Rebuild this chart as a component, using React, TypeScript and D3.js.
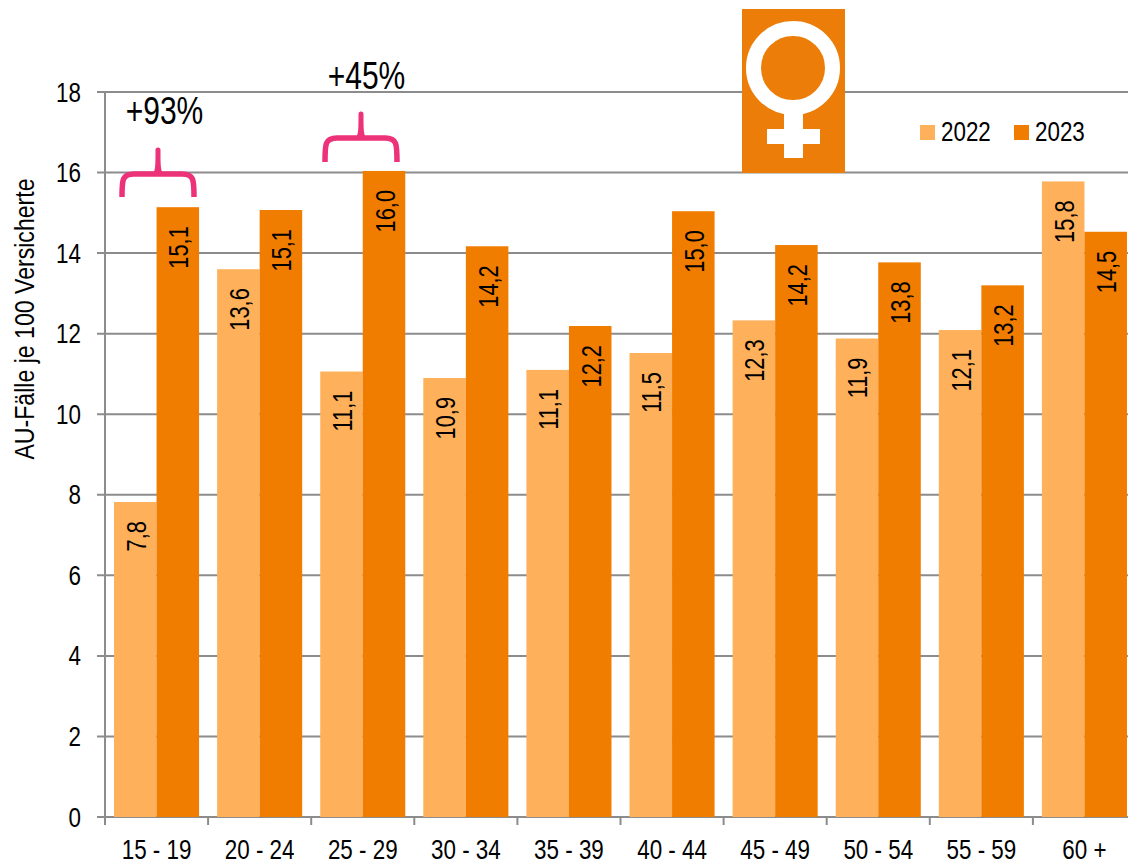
import React, { useEffect, useRef } from 'react';
import * as d3 from 'd3';

const ageGroups = ['15 - 19', '20 - 24', '25 - 29', '30 - 34', '35 - 39', '40 - 44', '45 - 49', '50 - 54', '55 - 59', '60 +'];
const years = ['2022', '2023'];
const values2022 = [7.82, 13.6, 11.06, 10.9, 11.1, 11.52, 12.33, 11.88, 12.09, 15.78];
const values2023 = [15.14, 15.07, 16.04, 14.17, 12.19, 15.04, 14.2, 13.77, 13.2, 14.53];
const yTicks = d3.range(0, 19, 2);
const colors = ['#ffb05a', '#f07d00'];
const gridColor = '#8c8c8c';
const pink = '#ec3278';
const font = '"Liberation Sans", Arial, sans-serif';

const App = () => {
  const ref = useRef<SVGSVGElement>(null);

  useEffect(() => {
    const svg = d3.select(ref.current);
    svg.selectAll('*').remove();

    const y = d3.scaleLinear().domain([0, 18]).range([817, 92]);
    const x = d3.scaleBand().domain(ageGroups).range([105, 1136]).paddingInner(0.175).paddingOuter(0.0875);
    const xSub = d3.scaleBand().domain(years).range([0, x.bandwidth()]);
    const tickX = (i: number) => 105 + i * x.step();

    // horizontally squeezed text, the source picture was resized
    const label = (px: number, py: number, text: string, size = 27, anchor = 'middle', sx = 0.83) =>
      svg.append('text')
        .attr('transform', `translate(${px},${py}) scale(${sx},1)`)
        .attr('text-anchor', anchor)
        .attr('font-family', font)
        .attr('font-size', size)
        .attr('fill', '#000')
        .text(text);

    // grid and y ticks
    svg.append('g').selectAll('line')
      .data(yTicks)
      .join('line')
        .attr('x1', 97)
        .attr('x2', 1128)
        .attr('y1', d => y(d))
        .attr('y2', d => y(d))
        .attr('stroke', gridColor)
        .attr('stroke-width', 2);

    yTicks.forEach(t => label(81, y(t) + 9.5, String(t), 27, 'end'));

    // bars
    [values2022, values2023].forEach((vals, s) => {
      svg.append('g').selectAll('rect')
        .data(vals)
        .join('rect')
          .attr('x', (d, i) => x(ageGroups[i])! + xSub(years[s])!)
          .attr('y', d => y(d))
          .attr('width', xSub.bandwidth())
          .attr('height', d => y(0) - y(d))
          .attr('fill', colors[s]);

      svg.append('g').selectAll('text')
        .data(vals)
        .join('text')
          .attr('transform', (d, i) => {
            const cx = x(ageGroups[i])! + xSub(years[s])! + xSub.bandwidth() / 2;
            return `translate(${cx + 10.5},${y(d) + 19}) rotate(-90) scale(0.78,1)`;
          })
          .attr('text-anchor', 'end')
          .attr('font-family', font)
          .attr('font-size', 28)
          .attr('fill', '#000')
          .text(d => d3.format('.1f')(d).replace('.', ','));
    });

    // axes
    svg.append('line')
      .attr('x1', 105).attr('x2', 105)
      .attr('y1', y(18)).attr('y2', 825)
      .attr('stroke', gridColor).attr('stroke-width', 2);

    ageGroups.forEach((g, i) => {
      svg.append('line')
        .attr('x1', tickX(i)).attr('x2', tickX(i))
        .attr('y1', 817).attr('y2', 825)
        .attr('stroke', gridColor).attr('stroke-width', 2);
      label(x(g)! + x.bandwidth() / 2, 859, g);
    });

    // y title
    svg.append('text')
      .attr('transform', 'translate(34,319) rotate(-90) scale(0.825,1)')
      .attr('text-anchor', 'middle')
      .attr('font-family', font)
      .attr('font-size', 28)
      .attr('fill', '#000')
      .text('AU-Fälle je 100 Versicherte');

    // legend
    [920, 1014].forEach((lx, i) => {
      svg.append('rect')
        .attr('x', lx).attr('y', 125)
        .attr('width', 15).attr('height', 15)
        .attr('fill', colors[i]);
      label(lx + 21, 141, years[i], 27, 'start');
    });

    // braces with the increases
    const brace = (left: number, mid: number, right: number, bottom: number, top: number, tip: number) => {
      svg.append('path')
        .attr('d', `M${left},${bottom} C${left},${top + 6} ${left},${top} ${left + 12},${top} L${right - 12},${top} C${right},${top} ${right},${top + 6} ${right},${bottom}`)
        .attr('fill', 'none')
        .attr('stroke', pink)
        .attr('stroke-width', 5.5);
      svg.append('path')
        .attr('d', `M${mid - 5},${top} C${mid - 2.5},${top - 4} ${mid - 2.5},${top - 10} ${mid - 2.5},${tip + 2} A2.5,2.5 0 0 1 ${mid + 2.5},${tip + 2} C${mid + 2.5},${top - 10} ${mid + 2.5},${top - 4} ${mid + 5},${top} Z`)
        .attr('fill', pink);
    };

    brace(122, 158, 194, 197, 174, 148);
    brace(325, 361, 397, 162, 138, 112);
    label(164.5, 124, '+93%', 38, 'middle', 0.79);
    label(366.5, 89, '+45%', 38, 'middle', 0.79);

    // venus icon
    const icon = svg.append('g');
    icon.append('rect').attr('x', 742).attr('y', 9).attr('width', 103).attr('height', 164).attr('fill', '#ec7d08');
    icon.append('circle').attr('cx', 793).attr('cy', 68).attr('r', 39.5).attr('fill', 'none').attr('stroke', '#fff').attr('stroke-width', 15);
    icon.append('rect').attr('x', 784).attr('y', 110).attr('width', 19).attr('height', 48).attr('fill', '#fff');
    icon.append('rect').attr('x', 767).attr('y', 129).attr('width', 53).attr('height', 15).attr('fill', '#fff');
  }, []);

  return (
    <svg ref={ref} width={1128} height={863} style={{ position: 'absolute', left: 0, top: 0 }}></svg>
  );
};

export default App;
